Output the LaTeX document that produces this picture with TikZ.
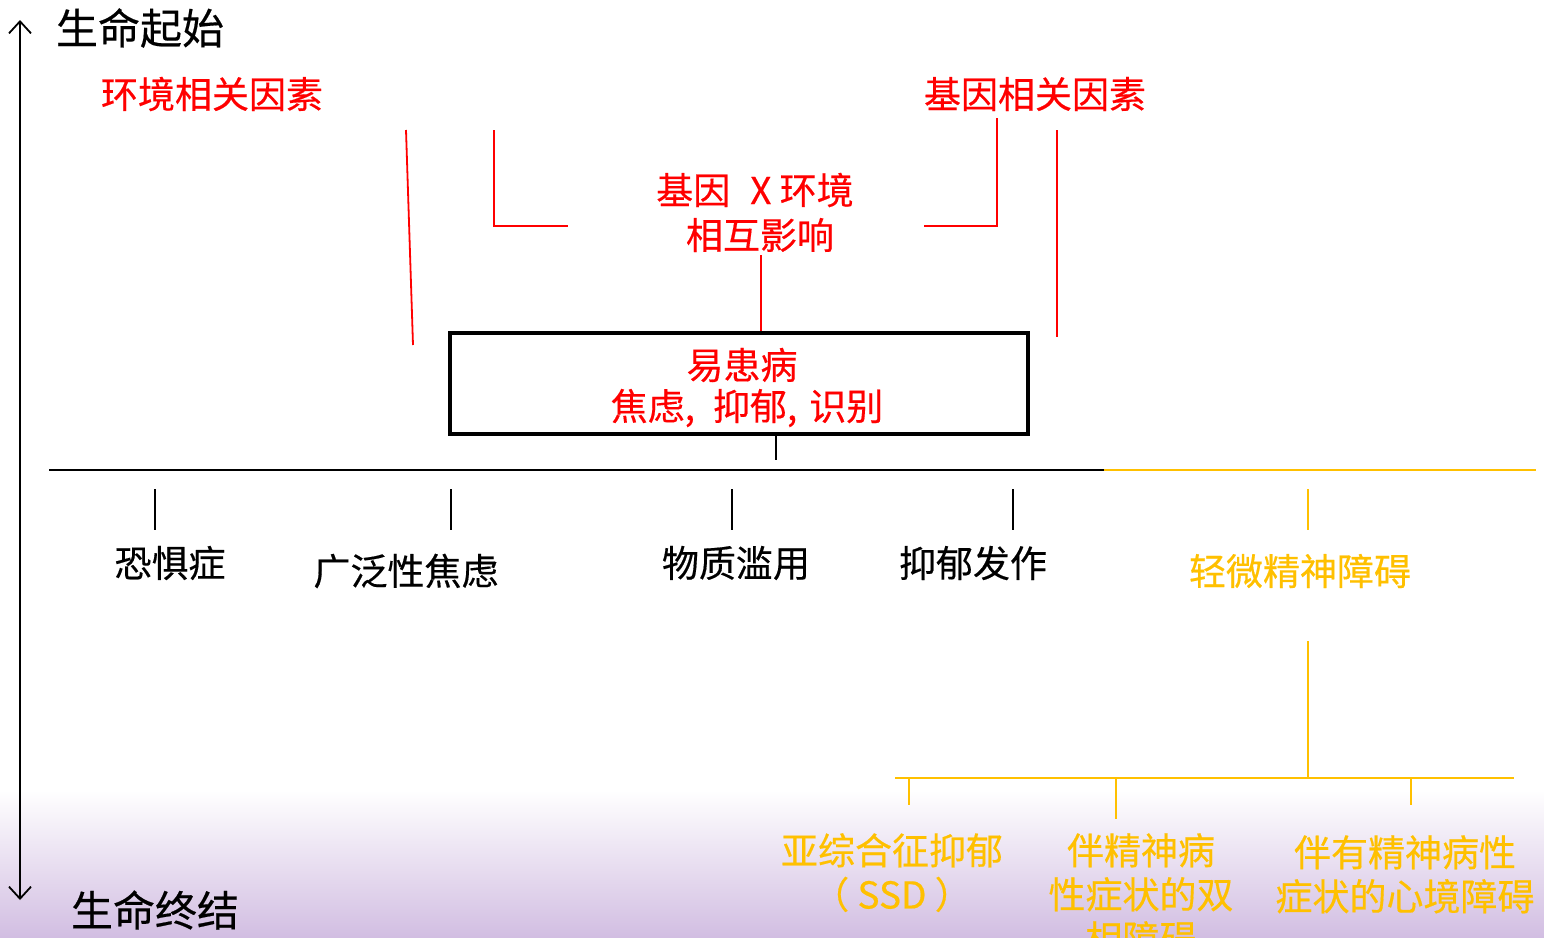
\documentclass[tikz,border=0pt]{standalone}
\usepackage{fontspec}
\setmainfont{Noto Sans CJK SC}[FakeBold=0.4]
\usetikzlibrary{arrows.meta}
\definecolor{myred}{HTML}{FF0000}
\definecolor{myyel}{HTML}{FFC000}
\definecolor{mypurp}{HTML}{D2BEE2}
\begin{document}
\begin{tikzpicture}[x=1pt,y=-1pt,
  lbl/.style={inner sep=0pt,align=center,font=\fontsize{37}{44}\selectfont},
  ttl/.style={inner sep=0pt,font=\fontsize{42}{48}\selectfont},
  redl/.style={draw=myred,line width=1.8pt},
  yell/.style={draw=myyel,line width=1.8pt},
  blkl/.style={draw=black,line width=1.5pt}]
\useasboundingbox (0,0) rectangle (1544,937);
\fill[white] (0,0) rectangle (1544,937);
\shade[top color=white,bottom color=mypurp] (0,790) rectangle (1544,937);
% life axis
\coordinate (ltop) at (20,20);
\coordinate (lbot) at (20,900);
\draw[line width=1.8pt,{Straight Barb[length=12pt,width=22pt]}-{Straight Barb[length=12pt,width=22pt]}] (ltop) -- (lbot);
\node[ttl] (start) at (140,28) {生命起始};
\node[ttl] (end) at (155,910) {生命终结};
% top factors
\node[lbl,text=myred] (env) at (212,94) {环境相关因素};
\node[lbl,text=myred] (gene) at (1035,94) {基因相关因素};
\node[lbl,text=myred] (gxe1) at (755,190) {基因\hspace{20pt}X 环境};
\node[lbl,text=myred] (gxe2) at (760,235) {相互影响};
\coordinate (e1) at (406,130); \coordinate (e2) at (413,345);
\draw[redl] (e1) -- (e2);
\coordinate (e3) at (494,130); \coordinate (e4) at (568,226);
\draw[redl] (e3) |- (e4);
\coordinate (g1) at (997,118); \coordinate (g2) at (924,226);
\draw[redl] (g1) |- (g2);
\coordinate (g3) at (1057,130); \coordinate (g4) at (1057,337);
\draw[redl] (g3) -- (g4);
% box
\node[draw=black,line width=4pt,minimum width=578pt,minimum height=101pt,inner sep=0pt] (box) at (739,383.5) {};
\node[lbl,text=myred] (box1) at (742,365) {易患病};
\node[lbl,text=myred] (box2) at (747,408) {焦虑,\hspace{18pt}抑郁,\hspace{12pt}识别};
\coordinate (m1) at (761,255);
\draw[redl] (m1) -- (m1 |- box.north);
\coordinate (bx) at (776,460);
\draw[blkl] (box.south -| bx) -- (bx);
% main horizontal line
\coordinate (h0) at (49,470); \coordinate (h1) at (1104,470); \coordinate (h2) at (1536,470);
\draw[blkl] (h0) -- (h1);
\draw[yell] (h1) -- (h2);
% ticks
\foreach \x/\n in {155/t1,451/t2,732/t3,1013/t4} {
  \coordinate (\n a) at (\x,489); \coordinate (\n b) at (\x,530);
  \draw[blkl] (\n a) -- (\n b);
}
\coordinate (t5a) at (1308,489); \coordinate (t5b) at (1308,530);
\draw[yell] (t5a) -- (t5b);
\node[lbl] (d1) at (170,563) {恐惧症};
\node[lbl] (d2) at (406,571) {广泛性焦虑};
\node[lbl] (d3) at (736,563) {物质滥用};
\node[lbl] (d4) at (973,563) {抑郁发作};
\node[lbl,text=myyel] (d5) at (1300,571) {轻微精神障碍};
% sub-branch
\coordinate (s0) at (1308,641); \coordinate (s1) at (1308,778);
\draw[yell] (s0) -- (s1);
\coordinate (sl) at (895,778); \coordinate (sr) at (1514,778);
\draw[yell] (sl) -- (sr);
\coordinate (u1a) at (909,778); \coordinate (u1b) at (909,805);
\coordinate (u2a) at (1116,778); \coordinate (u2b) at (1116,819);
\coordinate (u3a) at (1411,778); \coordinate (u3b) at (1411,805);
\draw[yell] (u1a) -- (u1b);
\draw[yell] (u2a) -- (u2b);
\draw[yell] (u3a) -- (u3b);
\node[lbl,text=myyel,anchor=north] (k1) at (892,833) {亚综合征抑郁\\（ SSD ）};
\node[lbl,text=myyel,anchor=north] (k2) at (1141,833) {伴精神病\\性症状的双\\相障碍};
\node[lbl,text=myyel,anchor=north] (k3) at (1405,835) {伴有精神病性\\症状的心境障碍};
\end{tikzpicture}
\end{document}
